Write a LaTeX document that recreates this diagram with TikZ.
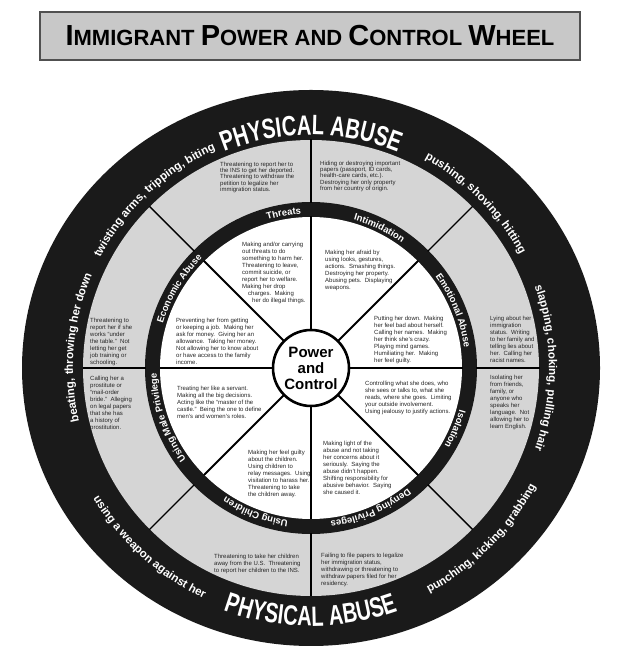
\documentclass[tikz,border=0pt]{standalone}
\usepackage{fontspec}
\setmainfont{Liberation Sans}
\newfontfamily\physfont{Liberation Sans}[FakeStretch=0.72]
\usetikzlibrary{decorations.text}
\definecolor{ringblack}{HTML}{1A1A1A}
\definecolor{ringgray}{HTML}{D5D5D5}
\definecolor{titlegray}{HTML}{C8C8C8}
\definecolor{titleborder}{HTML}{505050}
\newcommand\smalltxt{\fontsize{6}{7}\selectfont}
\newcommand\bandfont{\fontsize{9.5}{10}\selectfont\bfseries}
\newcommand\outerfont{\fontsize{11.5}{12}\selectfont\bfseries}
\newcommand\physabfont{\physfont\fontsize{28}{28}\selectfont\bfseries}
\newcommand\bigL[1]{{\fontsize{29}{29}\selectfont #1}}
\newcommand\smL[1]{{\fontsize{22}{22}\selectfont #1}}
\tikzset{
  bandlabel/.style={decorate, decoration={text along path, text color=white, text align=center, text={|\bandfont|#1}}},
  outerlabel/.style={decorate, decoration={text along path, text color=white, text align=center, text={|\outerfont|#1}}},
  physlabel/.style={decorate, decoration={text along path, text color=white, text align=center, text={|\physabfont|#1}}},
  segtext/.style={anchor=north west, inner sep=0pt, align=left, font=\smalltxt, text=black!85},
  spoke/.style={line width=1.8pt, black},
  grayspoke/.style={line width=1.4pt, black}
}
\begin{document}
\begin{tikzpicture}[x=1pt,y=1pt]
\useasboundingbox (0,0) rectangle (618,647);
\clip (0,0) rectangle (618,647);
% title
\node[draw=titleborder, line width=1.5pt, fill=titlegray, minimum width=540pt, minimum height=48pt, inner sep=0pt, font=\bfseries] (title) at (310,611)
  {\bigL{I}\smL{MMIGRANT }\bigL{P}\smL{OWER AND }\bigL{C}\smL{ONTROL }\bigL{W}\smL{HEEL}};
\begin{scope}[shift={(311,279)}]
  \fill[ringblack] (0,0) ellipse[x radius=289, y radius=278];
  \fill[ringgray] (0,0) circle (228);
  \fill[ringblack] (0,0) circle (166);
  \fill[white] (0,0) circle (151);
  \foreach \a in {0,45,...,315} {
    \draw[spoke] (\a:36) -- (\a:151.5);
    \draw[grayspoke] (\a:165) -- (\a:228.5);
  }
  \node[circle, draw, line width=2.6pt, fill=white, minimum size=76pt, inner sep=0pt, align=center,
        font=\fontsize{15}{16}\selectfont\bfseries] (center) at (0,0) {Power\\and\\Control};
  % band labels
  \path[bandlabel={Threats}] (120:154.5) arc[start angle=120, end angle=80, radius=154.5];
  \path[bandlabel={Intimidation}] (94:154.5) arc[start angle=94, end angle=34, radius=154.5];
  \path[bandlabel={Emotional Abuse}] (57:154.5) arc[start angle=57, end angle=-13, radius=154.5];
  \path[bandlabel={Isolation}] (2:154.5) arc[start angle=2, end angle=-48, radius=154.5];
  \path[bandlabel={Denying Privileges}] (-32:154.5) arc[start angle=-32, end angle=-102, radius=154.5];
  \path[bandlabel={Using Children}] (-76:154.5) arc[start angle=-76, end angle=-146, radius=154.5];
  \path[bandlabel={Using Male Privilege}] (234:154.5) arc[start angle=234, end angle=164, radius=154.5];
  \path[bandlabel={Economic Abuse}] (184:154.5) arc[start angle=184, end angle=114, radius=154.5];
  % outer labels
  \path[physlabel={PHYSICAL ABUSE}] (125:233) arc[start angle=125, end angle=55, radius=233];
  \path[physlabel={PHYSICAL ABUSE}] (235:258) arc[start angle=235, end angle=305, radius=258];
  \path[outerlabel={twisting arms, tripping, biting}] (163:238) arc[start angle=163, end angle=103, radius=238];
  \path[outerlabel={pushing, shoving, hitting}] (75:238) arc[start angle=75, end angle=15, radius=238];
  \path[outerlabel={slapping, choking, pulling hair}] (30:238) arc[start angle=30, end angle=-30, radius=238];
  \path[outerlabel={beating, throwing her down}] (205:238) arc[start angle=205, end angle=145, radius=238];
  \path[outerlabel={using a weapon against her}] (198:254) arc[start angle=198, end angle=258, radius=254];
  \path[outerlabel={punching, kicking, grabbing}] (-75:254) arc[start angle=-75, end angle=-15, radius=254];
  % inner segment texts
  \node[segtext] (threats) at (-69,126) {Making and/or carrying\\out threats to do\\something to harm her.\\Threatening to leave,\\commit suicide, or\\report her to welfare.\\Making her drop\\\hspace*{6pt}charges.\ \ Making\\\hspace*{10pt}her do illegal things.};
  \node[segtext] (intim) at (14,118) {Making her afraid by\\using looks, gestures,\\actions.\ \ Smashing things.\\Destroying her property.\\Abusing pets.\ \ Displaying\\weapons.};
  \node[segtext] (emot) at (63,52.5) {Putting her down.\ \ Making\\her feel bad about herself.\\Calling her names.\ \ Making\\her think she's crazy.\\Playing mind games.\\Humiliating her.\ \ Making\\her feel guilty.};
  \node[segtext] (isol) at (54,-12.5) {Controlling what she does, who\\she sees or talks to, what she\\reads, where she goes.\ \ Limiting\\your outside involvement.\\Using jealousy to justify actions.};
  \node[segtext] (deny) at (12,-72.5) {Making light of the\\abuse and not taking\\her concerns about it\\seriously.\ \ Saying the\\abuse didn't happen.\\Shifting responsibility for\\abusive behavior.\ \ Saying\\she caused it.};
  \node[segtext] (child) at (-63,-81.5) {Making her feel guilty\\about the children.\\Using children to\\relay messages.\ \ Using\\visitation to harass her.\\Threatening to take\\the children away.};
  \node[segtext] (male) at (-134,-17.5) {Treating her like a servant.\\Making all the big decisions.\\Acting like the ``master of the\\castle.''\ \ Being the one to define\\men's and women's roles.};
  \node[segtext] (econ) at (-135,50.5) {Preventing her from getting\\or keeping a job.\ \ Making her\\ask for money.\ \ Giving her an\\allowance.\ \ Taking her money.\\Not allowing her to know about\\or have access to the family\\income.};
  % gray ring texts
  \node[segtext, font=\fontsize{6}{6.4}\selectfont] (ga) at (-91,206.5) {Threatening to report her to\\the INS to get her deported.\\Threatening to withdraw the\\petition to legalize her\\immigration status.};
  \node[segtext, font=\fontsize{6}{6.4}\selectfont] (gb) at (9,207.5) {Hiding or destroying important\\papers (passport, ID cards,\\health-care cards, etc.).\\Destroying her only property\\from her country of origin.};
  \node[segtext] (gc) at (179,52.5) {Lying about her\\immigration\\status.\ \ Writing\\to her family and\\telling lies about\\her.\ \ Calling her\\racist names.};
  \node[segtext] (gd) at (179,-6.5) {Isolating her\\from friends,\\family, or\\anyone who\\speaks her\\language.\ \ Not\\allowing her to\\learn English.};
  \node[segtext] (ge) at (10,-184.5) {Failing to file papers to legalize\\her immigration status,\\withdrawing or threatening to\\withdraw papers filed for her\\residency.};
  \node[segtext] (gf) at (-97,-185.5) {Threatening to take her children\\away from the U.S.\ \ Threatening\\to report her children to the INS.};
  \node[segtext] (gg) at (-221,-7.5) {Calling her a\\prostitute or\\``mail-order\\bride.''\ \ Alleging\\on legal papers\\that she has\\a history of\\prostitution.};
  \node[segtext] (gh) at (-221,50.5) {Threatening to\\report her if she\\works ``under\\the table.''\ \ Not\\letting her get\\job training or\\schooling.};
\end{scope}
\end{tikzpicture}
\end{document}
